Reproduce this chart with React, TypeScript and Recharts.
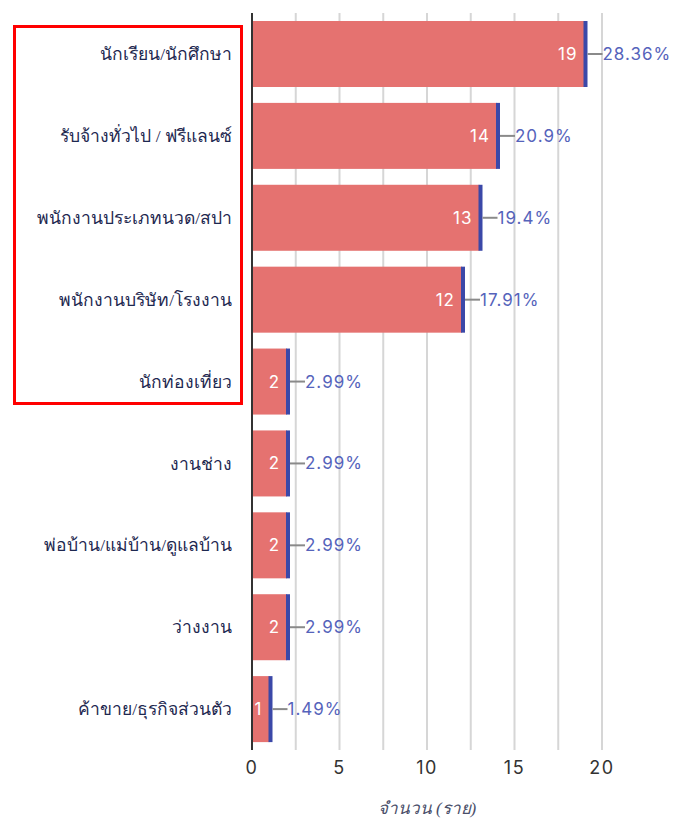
import React from "react";
import { BarChart, Bar, XAxis, YAxis, CartesianGrid, LabelList } from "recharts";

const categories = [
  "นักเรียน/นักศึกษา",
  "รับจ้างทั่วไป / ฟรีแลนซ์",
  "พนักงานประเภทนวด/สปา",
  "พนักงานบริษัท/โรงงาน",
  "นักท่องเที่ยว",
  "งานช่าง",
  "พ่อบ้าน/แม่บ้าน/ดูแลบ้าน",
  "ว่างงาน",
  "ค้าขาย/ธุรกิจส่วนตัว",
];
const counts = [19, 14, 13, 12, 2, 2, 2, 2, 1];
const percents = ["28.36%", "20.9%", "19.4%", "17.91%", "2.99%", "2.99%", "2.99%", "2.99%", "1.49%"];
const xTicks = [0, 2.5, 5, 7.5, 10, 12.5, 15, 17.5, 20];

const data = categories.map((name, i) => ({ name, value: counts[i], pct: percents[i] }));

const NUM_FONT = "Inter, 'Open Sans', sans-serif";

function BarShape(props: any) {
  const { x, y, width, height } = props;
  return (
    <g>
      <rect x={x} y={y} width={width} height={height} fill="#e57270" />
      <rect x={x + width - 1} y={y} width={4} height={height} fill="#3b48a8" />
    </g>
  );
}

function BarLabel(props: any) {
  const { x, y, width, height, value, index } = props;
  const end = x + width;
  const cy = y + height / 2;
  return (
    <g>
      <text
        x={end - 7}
        y={cy}
        textAnchor="end"
        dominantBaseline="central"
        fill="#fff"
        fontSize={17}
        letterSpacing={1}
        fontFamily={NUM_FONT}
      >
        {value}
      </text>
      <line x1={end + 3} x2={end + 18} y1={cy} y2={cy} stroke="#8a8a8a" strokeWidth={2} />
      <text
        x={end + 18}
        y={cy}
        textAnchor="start"
        dominantBaseline="central"
        fill="#5563bb"
        fontSize={17}
        letterSpacing={1}
        fontFamily={NUM_FONT}
      >
        {percents[index]}
      </text>
    </g>
  );
}

export default function App() {
  return (
    <div style={{ position: "absolute", left: 0, top: 0, width: 677, height: 824, background: "#fff" }}>
      <BarChart
        width={677}
        height={824}
        data={data}
        layout="vertical"
        margin={{ top: 13, right: 75, bottom: 8, left: 0 }}
      >
        <CartesianGrid horizontal={false} stroke="#d6d6d6" strokeWidth={2} />
        <XAxis
          type="number"
          domain={[0, 20]}
          ticks={xTicks}
          interval={0}
          tickFormatter={(v: number) => (v % 5 === 0 ? String(v) : "")}
          axisLine={false}
          tickLine={false}
          tickSize={6}
          tickMargin={5}
          height={66}
          tick={{ fontSize: 18, fill: "#333", fontFamily: NUM_FONT, letterSpacing: 1.5 }}
          label={{
            value: "จำนวน (ราย)",
            position: "insideBottom",
            offset: 2,
            style: { fontSize: 17, fontStyle: "italic", fill: "#4a4f6a", fontFamily: "serif" },
          }}
        />
        <YAxis
          type="category"
          dataKey="name"
          width={252}
          axisLine={{ stroke: "#333", strokeWidth: 2 }}
          tickLine={false}
          tickMargin={14}
          tick={{ fontSize: 17.5, fill: "#1e2850", fontFamily: "serif" }}
        />
        <Bar dataKey="value" barSize={66} shape={<BarShape />} isAnimationActive={false}>
          <LabelList dataKey="value" content={<BarLabel />} />
        </Bar>
      </BarChart>
      <div
        style={{
          position: "absolute",
          left: 13,
          top: 25,
          width: 230,
          height: 380,
          border: "3px solid #ff0000",
          boxSizing: "border-box",
        }}
      />
    </div>
  );
}
